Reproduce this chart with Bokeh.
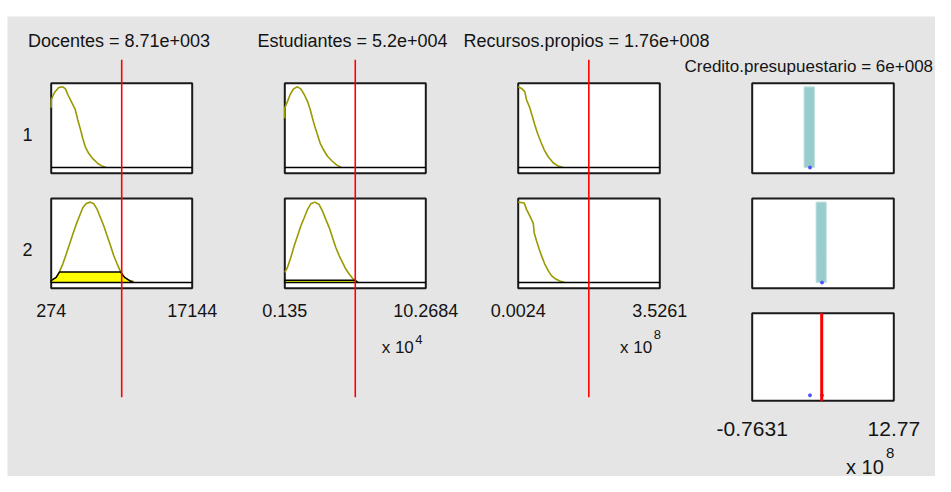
from bokeh.plotting import figure
from bokeh.models import Range1d
from bokeh.core.properties import value
from bokeh.embed import file_html
from bokeh.resources import INLINE

# ---------------- data ----------------
input_titles = ["Docentes = 8.71e+003", "Estudiantes = 5.2e+004", "Recursos.propios = 1.76e+008"]
output_title = "Credito.presupuestario = 6e+008"
input_ranges = [(274, 17144), (0.135, 10.2684), (0.0024, 3.5261)]
input_range_labels = [("274", "17144"), ("0.135", "10.2684"), ("0.0024", "3.5261")]
input_exponents = [None, "4", "8"]
input_values = [8710, 5.2, 1.76]
rule_labels = ["1", "2"]

# membership functions (rule 1 / rule 2) per input
docentes_mf1_x = [274, 274, 669, 1147, 1662, 1985, 2260, 2667, 3146, 3457, 3780, 4055, 4342, 4737, 5251, 5850, 6328, 6855]
docentes_mf1_y = [0.74, 0.84, 0.93, 0.99, 1.00, 0.975, 0.905, 0.82, 0.72, 0.59, 0.47, 0.36, 0.26, 0.18, 0.11, 0.05, 0.02, 0.0]
docentes_mf2_x = [274, 872, 1267, 1662, 2069, 2464, 2858, 3265, 3660, 4055, 4462, 4940, 5371, 5778, 6173, 6568, 6975, 7373, 7764, 8171, 8569, 9047, 9650, 10157]
docentes_mf2_y = [0.025, 0.065, 0.136, 0.23, 0.353, 0.477, 0.60, 0.723, 0.827, 0.93, 0.983, 1.0, 0.979, 0.909, 0.806, 0.704, 0.58, 0.457, 0.333, 0.23, 0.136, 0.065, 0.025, 0.012]

estudiantes_mf1_x = [0.135, 0.135, 0.329, 0.523, 0.76, 1.048, 1.285, 1.529, 1.766, 1.96, 2.125, 2.291, 2.485, 2.679, 2.916, 3.204, 3.513, 3.872, 4.21]
estudiantes_mf1_y = [0.61, 0.74, 0.82, 0.905, 0.975, 1.0, 0.975, 0.905, 0.82, 0.72, 0.61, 0.51, 0.405, 0.30, 0.22, 0.14, 0.084, 0.03, 0.0]
estudiantes_mf2_x = [0.135, 0.329, 0.566, 0.811, 1.048, 1.285, 1.529, 1.766, 2.004, 2.291, 2.607, 2.844, 3.082, 3.326, 3.563, 3.8, 4.045, 4.282, 4.519, 4.763, 5.0, 5.238, 5.41]
estudiantes_mf2_y = [0.127, 0.189, 0.312, 0.457, 0.58, 0.704, 0.806, 0.909, 0.979, 1.0, 0.97, 0.889, 0.785, 0.683, 0.559, 0.436, 0.333, 0.25, 0.168, 0.106, 0.053, 0.025, 0.0]

recursos_mf1_x = [0.0024, 0.0845, 0.1666, 0.209, 0.291, 0.358, 0.415, 0.483, 0.565, 0.649, 0.749, 0.873, 0.997, 1.122]
recursos_mf1_y = [1.0, 0.98, 0.94, 0.84, 0.74, 0.63, 0.53, 0.425, 0.32, 0.22, 0.134, 0.059, 0.018, 0.0]
recursos_mf2_x = [0.0024, 0.1517, 0.209, 0.291, 0.376, 0.4, 0.458, 0.525, 0.6, 0.664, 0.749, 0.83, 0.938, 1.037, 1.162]
recursos_mf2_y = [1.0, 0.99, 0.91, 0.83, 0.74, 0.62, 0.52, 0.415, 0.31, 0.23, 0.148, 0.086, 0.044, 0.02, 0.0]

# fired (clipped) areas; rule 1 fires nothing
docentes_fill1_x, docentes_fill1_y = [274], [0.0]
docentes_fill2_x = [274, 872, 1267, 8569, 9047, 9650, 10157]
docentes_fill2_y = [0.025, 0.065, 0.13, 0.13, 0.065, 0.025, 0.0]
estudiantes_fill1_x, estudiantes_fill1_y = [0.135], [0.0]
estudiantes_fill2_x = [0.135, 5.0, 5.2, 5.41]
estudiantes_fill2_y = [0.03, 0.03, 0.025, 0.0]
recursos_fill1_x, recursos_fill1_y = [0.0024], [0.0]
recursos_fill2_x, recursos_fill2_y = [0.0024], [0.0]

# output
output_range = (-0.7631, 12.77)
output_range_labels = ("-0.7631", "12.77")
output_exponent = "8"
rule_out_left = [4.19, 5.34]
rule_out_right = [5.20, 6.32]
rule_out_top = [1.0, 1.0]
rule_out_value = [4.76, 5.91]
output_value = 5.88

mf_x = [[docentes_mf1_x, docentes_mf2_x], [estudiantes_mf1_x, estudiantes_mf2_x], [recursos_mf1_x, recursos_mf2_x]]
mf_y = [[docentes_mf1_y, docentes_mf2_y], [estudiantes_mf1_y, estudiantes_mf2_y], [recursos_mf1_y, recursos_mf2_y]]
fill_x = [[docentes_fill1_x, docentes_fill2_x], [estudiantes_fill1_x, estudiantes_fill2_x], [recursos_fill1_x, recursos_fill2_x]]
fill_y = [[docentes_fill1_y, docentes_fill2_y], [estudiantes_fill1_y, estudiantes_fill2_y], [recursos_fill1_y, recursos_fill2_y]]

# ---------------- layout (screen pixels) ----------------
COL_X = [(50.7, 191.7), (284.3, 425.3), (517.7, 659.3), (751.7, 893.3)]
ROW_Y = [(82.7, 172.7), (198.0, 287.7), (312.7, 400.3)]
Y_SRC = (-0.07, 1.045)
FONT = value("Liberation Sans")
TXT = "#141414"
W, H = 935, 476

p = figure(width=W, height=H, x_range=Range1d(0, W), y_range=Range1d(H, 0),
           output_backend="svg", toolbar_location=None, x_axis_type=None, y_axis_type=None,
           min_border=0, outline_line_color=None,
           background_fill_color="white", border_fill_color="white")

p.quad(left=[7], right=[951], top=[16], bottom=[492], fill_color="#e5e5e5", line_color=None)


def panel(ci, ri, xr):
    l, r = COL_X[ci]
    t, b = ROW_Y[ri]
    p.quad(left=[l], right=[r], top=[t], bottom=[b], fill_color="white",
           line_color="#1a1a1a", line_width=2)
    return p.subplot(x_source=Range1d(*xr), y_source=Range1d(*Y_SRC),
                     x_target=Range1d(l, r), y_target=Range1d(b, t))


def column_map(ci, xr):
    l, r = COL_X[ci]
    return p.subplot(x_source=Range1d(*xr), y_source=Range1d(0, 1),
                     x_target=Range1d(l, r), y_target=Range1d(0, 1))


def txt(x, y, s, size, align="center", target=p):
    target.text(x=[x], y=[y], text=[s], text_font=FONT, text_font_size=size,
                text_align=align, text_baseline="alphabetic", text_color=TXT)


# input columns
for ci in range(3):
    lo, hi = input_ranges[ci]
    for ri in range(2):
        sp = panel(ci, ri, (lo, hi))
        sp.line(mf_x[ci][ri], mf_y[ci][ri], line_color="#999900", line_width=1.6)
        sp.patch(fill_x[ci][ri] + [hi, lo], fill_y[ci][ri] + [0.0, 0.0],
                 fill_color="#ffff00", line_color="black", line_width=1.5)

# output column
for ri in range(2):
    sp = panel(3, ri, output_range)
    sp.quad(left=[rule_out_left[ri]], right=[rule_out_right[ri]], top=[rule_out_top[ri]], bottom=[0],
            fill_color="#99cccc", line_color="#c4e2e2", line_width=1)
    sp.scatter([rule_out_value[ri]], [0], size=3, color="#4f4fff")
sp3 = panel(3, 2, output_range)
sp3.scatter(rule_out_value, [0, 0], size=3, color="#4f4fff")
sp3.segment(x0=[output_value], y0=[Y_SRC[0]], x1=[output_value], y1=[Y_SRC[1]],
            line_color="#ff0000", line_width=3)

# red input lines, range labels, exponents
title_x = [118.5, 352, 586]
exp_x = [None, 413.3, 651.7]
exp_base = [None, 339.0, 334.0]
for ci in range(3):
    lo, hi = input_ranges[ci]
    cm = column_map(ci, (lo, hi))
    cm.segment(x0=[input_values[ci]], y0=[59.3], x1=[input_values[ci]], y1=[396.7],
               line_color="#ff0000", line_width=1.6)
    cm.text(x=[lo, hi], y=[310, 310], text=list(input_range_labels[ci]), text_font=FONT,
            text_font_size="18px", text_align="center", text_baseline="alphabetic", text_color=TXT)
    txt(title_x[ci], 40, input_titles[ci], "18px")
    if input_exponents[ci]:
        txt(exp_x[ci], 346.7, "x 10", "17px", align="right")
        txt(exp_x[ci] + 1.5, exp_base[ci], input_exponents[ci], "13px", align="left")

cm4 = column_map(3, output_range)
cm4.text(x=list(output_range), y=[428.3, 428.3], text=list(output_range_labels), text_font=FONT,
         text_font_size="21px", text_align="center", text_baseline="alphabetic", text_color=TXT)
txt(684, 65.7, output_title, "17px", align="left")
txt(883.3, 466, "x 10", "20px", align="right")
txt(885.5, 452, output_exponent, "15px", align="left")

# rule numbers
txt(27, 134, rule_labels[0], "18px")
txt(27, 249, rule_labels[1], "18px")

open("out.html", "w").write(file_html(p, INLINE))
